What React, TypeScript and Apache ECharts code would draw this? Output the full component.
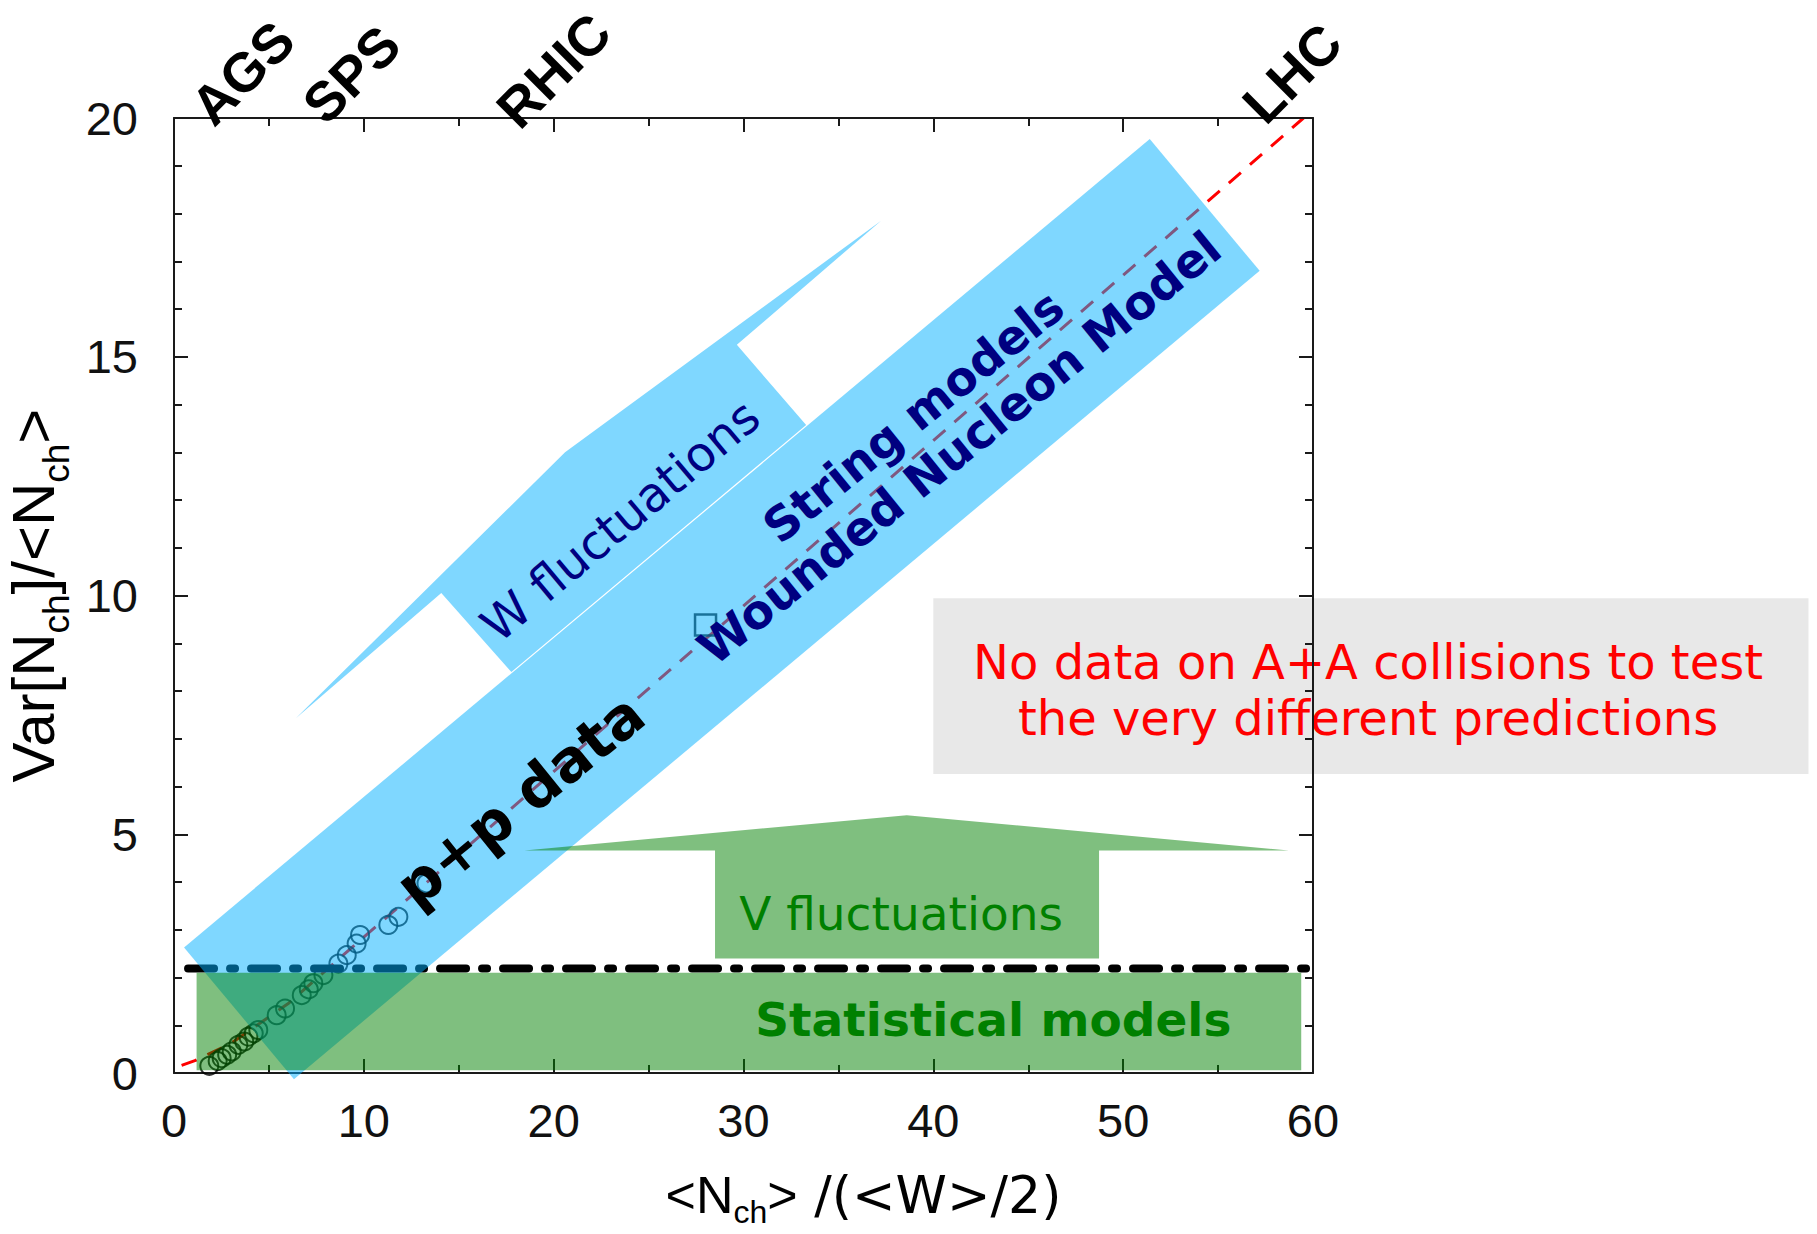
import React, { useEffect, useRef } from "react";
import * as echarts from "echarts";

// ---- axes ----
const xMin = 0;
const xMax = 60;
const xStep = 10;
const yMin = 0;
const yMax = 20;
const yStep = 5;

// ---- p+p data (open circles) ----
const ppX = [1.86, 2.3, 2.51, 2.8, 3.04, 3.39, 3.7, 3.92, 4.2, 4.44, 5.41, 5.85, 6.73, 7.1, 7.34, 7.87, 8.66, 9.1, 9.62, 9.8, 11.29, 11.82, 13.3];
const ppY = [0.15, 0.25, 0.31, 0.38, 0.45, 0.59, 0.66, 0.76, 0.83, 0.9, 1.21, 1.35, 1.63, 1.75, 1.88, 2.05, 2.29, 2.47, 2.71, 2.89, 3.1, 3.27, 3.97];

// ---- single open square ----
const sqX = [28.0];
const sqY = [9.38];

// ---- red dashed trend ----
const trendX = [0.4, 1.1, 3, 6, 9, 12.07, 26.3, 59.5];
const trendY = [0.16, 0.26, 0.62, 1.45, 2.5, 3.56, 8.5, 20];

// ---- statistical-model dash-dot line ----
const statLineX = [0.74, 59.7];
const statLineY = [2.19, 2.19];

// ---- shaded regions (vertices in data units) ----
const bandPoly = [[0.53, 2.63], [6.32, -0.13], [57.19, 16.8], [51.4, 19.56]];
const wArrowPoly = [[6.42, 7.43], [20.6, 13.0], [37.25, 17.85], [29.65, 15.25], [33.3, 13.57], [17.77, 8.4], [14.08, 10.05]];
const vArrowPoly = [[18.46, 4.66], [38.6, 5.4], [58.73, 4.66], [48.73, 4.66], [48.73, 2.4], [28.5, 2.4], [28.5, 4.66]];
const statBoxPoly = [[1.19, 0.06], [59.38, 0.06], [59.38, 2.1], [1.19, 2.1]];
const noteBoxPoly = [[40.0, 6.26], [86.1, 6.26], [86.1, 9.94], [40.0, 9.94]];

// ---- annotations ----
const annoText = ["p+p data", "String models", "Wounded Nucleon Model", "W fluctuations", "V fluctuations", "Statistical models"];
const annoX = [18.23, 38.95, 41.36, 23.5, 38.3, 43.16];
const annoY = [5.71, 13.75, 13.09, 11.57, 3.34, 1.12];
const annoAngle = [39, 39, 39, 40, 0, 0];

const noteText = ["No data on A+A collisions to test", "the very different predictions"];
const noteX = [62.9];
const noteY = [8.03];

// ---- accelerators (top) ----
const accelNames = ["AGS", "SPS", "RHIC", "LHC"];
const accelX = [1.4, 7.3, 17.5, 56.8];
const accelY = [20.06, 20.1, 20.0, 20.1];

// ---- styles ----
const DJ = '"DejaVu Sans"';
const LIB = '"Liberation Sans"';
const annoStyle = [
  { font: `bold 58px ${DJ}`, fill: "#000000" },
  { font: `bold 47px ${DJ}`, fill: "#000080" },
  { font: `bold 47px ${DJ}`, fill: "#000080" },
  { font: `48px ${DJ}`, fill: "#000080" },
  { font: `47px ${DJ}`, fill: "#008000" },
  { font: `bold 47px ${DJ}`, fill: "#008000" },
];
const BLUE = "rgba(0,176,255,0.5)";
const GREEN = "rgba(0,128,0,0.5)";
const AXIS_COLOR = "#1a1a1a";

function polySeries(name: string, polys: number[][][], fill: string, z: number) {
  return {
    type: "custom",
    name,
    z,
    silent: true,
    clip: false,
    data: polys.map((p) => p[0]),
    renderItem: (params: any, api: any) => {
      const pts = polys[params.dataIndex].map((p) => api.coord(p));
      return { type: "polygon", shape: { points: pts }, style: { fill } };
    },
  };
}

function axisBase(extra: any) {
  return {
    type: "value",
    axisLine: { show: true, onZero: false, lineStyle: { color: AXIS_COLOR, width: 2 } },
    axisTick: { show: true, inside: true, length: 14, lineStyle: { color: AXIS_COLOR, width: 2 } },
    minorTick: { show: true, length: 8, lineStyle: { color: AXIS_COLOR, width: 2 } },
    splitLine: { show: false },
    minorSplitLine: { show: false },
    ...extra,
  };
}

export default function App() {
  const ref = useRef<HTMLDivElement>(null);
  useEffect(() => {
    const chart = echarts.init(ref.current!, null, { renderer: "svg" });
    const labelStyle = { fontFamily: LIB, fontSize: 47, color: "#111111" };
    const option: any = {
      animation: false,
      backgroundColor: "#ffffff",
      textStyle: { fontFamily: LIB },
      grid: { left: 174, top: 118, width: 1139, height: 955, outerBoundsMode: "none", containLabel: false },
      xAxis: [
        axisBase({
          position: "bottom",
          min: xMin,
          max: xMax,
          interval: xStep,
          minorTick: { show: true, splitNumber: 2, length: 8, lineStyle: { color: AXIS_COLOR, width: 2 } },
          axisLabel: { ...labelStyle, margin: 24, showMinLabel: true, showMaxLabel: true },
          name: "{a|<N}{s|ch}{a|>}{b| /(<W>/2)}",
          nameLocation: "middle",
          nameGap: 92,
          nameTextStyle: {
            padding: [0, 0, 0, 240],
            rich: {
              a: { fontFamily: LIB, fontSize: 52, color: "#000", lineHeight: 60 },
              s: { fontFamily: LIB, fontSize: 32, color: "#000", lineHeight: 60, padding: [34, 0, 0, 0] },
              b: { fontFamily: DJ, fontSize: 52, color: "#000", lineHeight: 60 },
            },
          },
        }),
        axisBase({
          position: "top",
          min: xMin,
          max: xMax,
          interval: xStep,
          minorTick: { show: true, splitNumber: 2, length: 8, lineStyle: { color: AXIS_COLOR, width: 2 } },
          axisLabel: { show: false },
        }),
      ],
      yAxis: [
        axisBase({
          position: "left",
          min: yMin,
          max: yMax,
          interval: yStep,
          minorTick: { show: true, splitNumber: 5, length: 8, lineStyle: { color: AXIS_COLOR, width: 2 } },
          axisLabel: { ...labelStyle, margin: 36, showMinLabel: true, showMaxLabel: true },
          name: "{a|Var[N}{s|ch}{a|]/<N}{s|ch}{a|>}",
          nameLocation: "middle",
          nameRotate: 90,
          nameGap: 100,
          nameTextStyle: {
            rich: {
              a: { fontFamily: LIB, fontSize: 60, color: "#000", lineHeight: 68 },
              s: { fontFamily: LIB, fontSize: 37, color: "#000", lineHeight: 68, padding: [46, 0, 0, 0] },
            },
          },
        }),
        axisBase({
          position: "right",
          z: 3,
          min: yMin,
          max: yMax,
          interval: yStep,
          minorTick: { show: true, splitNumber: 5, length: 8, lineStyle: { color: AXIS_COLOR, width: 2 } },
          axisLabel: { show: false },
        }),
      ],
      series: [
        polySeries("note box", [noteBoxPoly], "#e8e8e8", 1),
        {
          type: "custom",
          name: "note",
          z: 2,
          silent: true,
          clip: false,
          data: noteX.map((x, i) => [x, noteY[i]]),
          renderItem: (params: any, api: any) => {
            const [px, py] = api.coord([api.value(0), api.value(1)]);
            return {
              type: "text",
              x: px,
              y: py,
              style: {
                text: noteText.join("\n"),
                fill: "#ff0000",
                font: `48px ${DJ}`,
                lineHeight: 56,
                align: "center",
                verticalAlign: "middle",
              },
            };
          },
        },
        {
          type: "line",
          name: "trend",
          z: 2,
          symbol: "none",
          silent: true,
          data: trendX.map((x, i) => [x, trendY[i]]),
          lineStyle: { color: "#ff0000", width: 3, type: [16, 12] },
        },
        {
          type: "line",
          name: "statistical",
          z: 2,
          symbol: "none",
          silent: true,
          data: statLineX.map((x, i) => [x, statLineY[i]]),
          lineStyle: { color: "#000000", width: 8, type: [26, 16, 5, 16], cap: "round" },
        },
        {
          type: "scatter",
          name: "p+p",
          z: 3,
          symbol: "circle",
          symbolSize: 18,
          silent: true,
          data: ppX.map((x, i) => [x, ppY[i]]),
          itemStyle: { color: "rgba(0,0,0,0)", borderColor: "#000000", borderWidth: 2 },
        },
        {
          type: "scatter",
          name: "WNM",
          z: 3,
          symbol: "rect",
          symbolSize: 21,
          silent: true,
          data: sqX.map((x, i) => [x, sqY[i]]),
          itemStyle: { color: "rgba(0,0,0,0)", borderColor: "#000000", borderWidth: 2.5 },
        },
        polySeries("blue regions", [bandPoly, wArrowPoly], BLUE, 5),
        polySeries("green regions", [statBoxPoly, vArrowPoly], GREEN, 6),
        {
          type: "custom",
          name: "annotations",
          z: 10,
          silent: true,
          clip: false,
          data: annoX.map((x, i) => [x, annoY[i]]),
          renderItem: (params: any, api: any) => {
            const i = params.dataIndex;
            const [px, py] = api.coord([api.value(0), api.value(1)]);
            return {
              type: "text",
              x: px,
              y: py,
              rotation: (annoAngle[i] * Math.PI) / 180,
              style: {
                text: annoText[i],
                fill: annoStyle[i].fill,
                font: annoStyle[i].font,
                align: "center",
                verticalAlign: "middle",
              },
            };
          },
        },
        {
          type: "custom",
          name: "accelerators",
          z: 10,
          silent: true,
          clip: false,
          data: accelX.map((x, i) => [x, accelY[i]]),
          renderItem: (params: any, api: any) => {
            const i = params.dataIndex;
            const [px, py] = api.coord([api.value(0), api.value(1)]);
            return {
              type: "text",
              x: px,
              y: py,
              rotation: Math.PI / 4,
              style: {
                text: accelNames[i],
                fill: "#000000",
                font: `bold 55px ${LIB}`,
                lineHeight: 44,
                align: "left",
                verticalAlign: "middle",
              },
            };
          },
        },
      ],
    };
    chart.setOption(option);
    return () => chart.dispose();
  }, []);
  return (
    <div
      ref={ref}
      style={{ position: "absolute", left: 0, top: 0, width: "1817px", height: "1234px", background: "#fff" }}
    />
  );
}
